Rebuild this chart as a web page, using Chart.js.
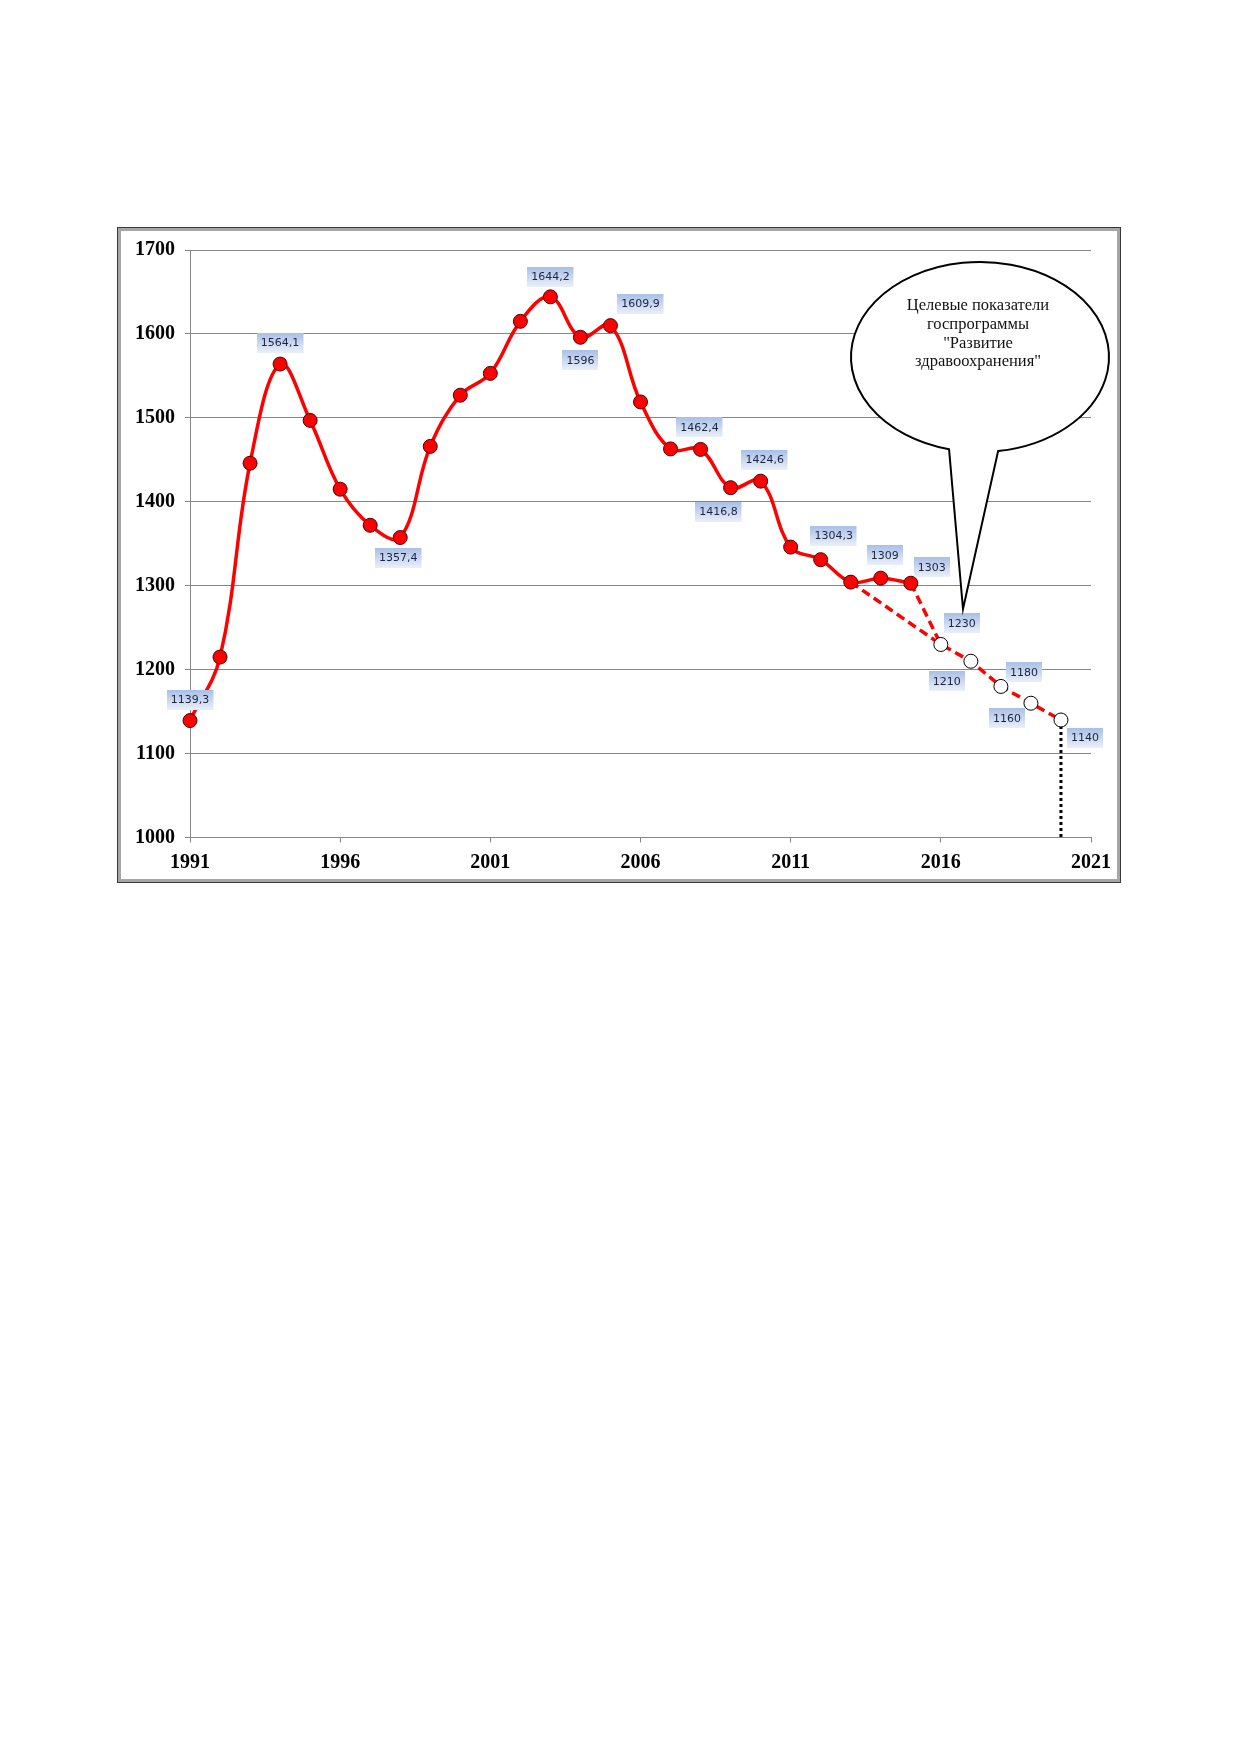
<!DOCTYPE html>
<html>
<head>
<meta charset="utf-8">
<script src="https://cdn.jsdelivr.net/npm/chart.js@4.4.1/dist/chart.umd.min.js"></script>
<style>
  html, body { margin:0; padding:0; background:#fff; width:1239px; height:1752px; overflow:hidden; }
  #frame { position:absolute; left:118px; top:228px; width:1002px; height:654px; box-sizing:border-box;
           border:3px solid #a6a6a6; outline:1px solid #3a3a3a; }
  #wrap { position:absolute; left:118px; top:228px; width:1002px; height:654px; }
</style>
</head>
<body>
<div id="frame"></div>
<div id="wrap"><canvas id="c" width="1002" height="654"></canvas></div>
<script>
// ---- data ----
const years = [1991,1992,1993,1994,1995,1996,1997,1998,1999,2000,2001,2002,2003,2004,2005,2006,2007,2008,2009,2010,2011,2012,2013,2014,2015];
const actual = [1139.3,1215,1446,1564.1,1497,1415,1372,1357.4,1466,1527,1553,1615,1644.2,1596,1609.9,1519,1463,1462.4,1416.8,1424.6,1346,1331,1304.3,1309,1303];
const forecastYears = [2016,2017,2018,2019,2020];
const forecast = [1230,1210,1180,1160,1140];
const xTicks = [1991,1996,2001,2006,2011,2016,2021];
const yMin = 1000, yMax = 1700, yStep = 100;
const calloutLines = ['Целевые показатели','госпрограммы','"Развитие','здравоохранения"'];

// ---- label placement (pixel offsets, styling only) ----
const mainLabelOffsets = [
  [0,-21],null,null,[0,-21],null,null,null,[-2,20],null,null,null,null,[0,-20],[0,23],[30,-22],
  null,null,[-1,-22],[-12,24],[4,-21],null,null,[-17,-46],[4,-23],[21,-16]
];
const forecastLabelOffsets = [[21,-21],[-24,20],[23,-14],[-24,15],[24,18]];

const fmt = v => String(v).replace('.', ',');

// forecast branch from 2013 and from 2015
const i2013 = years.indexOf(2013), i2015 = years.indexOf(2015);
const forecastA = [{x:years[i2013], y:actual[i2013]}].concat(forecastYears.map((x,i)=>({x, y:forecast[i]})));
const forecastB = [{x:years[i2015], y:actual[i2015]}, {x:forecastYears[0], y:forecast[0]}];
const lastF = forecast.length-1;
const dropLine = [{x:forecastYears[lastF], y:forecast[lastF]}, {x:forecastYears[lastF], y:yMin}];

const labelPlugin = {
  id:'labels',
  afterDatasetsDraw(chart){
    const ctx = chart.ctx;
    ctx.save();
    ctx.font = '11px "DejaVu Sans"';
    ctx.textAlign = 'center';
    ctx.textBaseline = 'middle';
    const drawLabel = (px, py, text) => {
      const w = ctx.measureText(text).width + 8, h = 20;
      const x0 = Math.round(px - w/2), y0 = Math.round(py - h/2);
      const g = ctx.createLinearGradient(0, y0, 0, y0+h);
      g.addColorStop(0, '#a9bfe6');
      g.addColorStop(1, '#eaf0f9');
      ctx.fillStyle = g;
      ctx.fillRect(x0, y0, w, h);
      ctx.fillStyle = '#1c2540';
      ctx.fillText(text, px, py+0.5);
    };
    const m0 = chart.getDatasetMeta(0);
    mainLabelOffsets.forEach((o,i)=>{
      if(!o) return;
      const p = m0.data[i];
      drawLabel(p.x+o[0], p.y+o[1], fmt(actual[i]));
    });
    const m1 = chart.getDatasetMeta(1);
    forecastLabelOffsets.forEach((o,i)=>{
      const p = m1.data[i+1];
      drawLabel(p.x+o[0], p.y+o[1], fmt(forecast[i]));
    });
    // callout
    const cx = 862, cy = 129, rx = 129, ry = 95;
    const tL = 1.813, tR = 1.43;
    ctx.beginPath();
    ctx.ellipse(cx, cy, rx, ry, 0, tL, tR + Math.PI*2, false);
    ctx.lineTo(845, 381);
    ctx.closePath();
    ctx.fillStyle = '#ffffff';
    ctx.fill();
    ctx.lineWidth = 2;
    ctx.strokeStyle = '#000';
    ctx.stroke();
    ctx.fillStyle = '#111';
    ctx.font = '16.5px "Liberation Serif"';
    const ly = [78, 97, 116, 134];
    calloutLines.forEach((t,i)=> ctx.fillText(t, 860, ly[i]));
    ctx.restore();
  }
};

new Chart(document.getElementById('c'), {
  type:'line',
  data:{
    datasets:[
      { data: years.map((x,i)=>({x, y:actual[i]})), borderColor:'#ff0000', borderWidth:3.5, tension:0.38, clip:false,
        pointRadius:7, pointBackgroundColor:'#ff0000', pointBorderColor:'#4a0000', pointBorderWidth:1, order:0 },
      { data: forecastA, borderColor:'#ff0000', borderWidth:3.5, borderDash:[9,5], tension:0, clip:false,
        pointRadius: forecastA.map((p,i)=> i===0 ? 0 : 7), pointBackgroundColor:'#ffffff',
        pointBorderColor:'#000000', pointBorderWidth:1, order:1 },
      { data: forecastB, borderColor:'#ff0000', borderWidth:3.5, borderDash:[9,5], tension:0, pointRadius:0, clip:false, order:2 },
      { data: dropLine, borderColor:'#000000', borderWidth:3, borderDash:[3,3], pointRadius:0, clip:false, order:3 }
    ]
  },
  options:{
    responsive:false, animation:false, devicePixelRatio:1,
    layout:{ padding:{ left:0, top:19, right:29, bottom:0 } },
    plugins:{ legend:{display:false}, tooltip:{enabled:false} },
    scales:{
      x:{ type:'linear', min:xTicks[0], max:xTicks[xTicks.length-1],
          afterBuildTicks: s => { s.ticks = xTicks.map(v=>({value:v})); },
          afterFit: s => { s.height = 44.5; },
          grid:{ drawOnChartArea:false, drawTicks:true, tickLength:5, color:'#868686' },
          border:{ color:'#868686' },
          ticks:{ autoSkip:false, maxRotation:0, padding:8, color:'#000',
                  font:{ family:'"Liberation Serif"', size:20, weight:'bold' }, callback: v => String(v) } },
      y:{ min:yMin, max:yMax,
          afterFit: s => { s.width = 72; },
          grid:{ color:'#868686', tickLength:5, drawTicks:true },
          border:{ color:'#868686' },
          ticks:{ stepSize:yStep, padding:10, color:'#000',
                  font:{ family:'"Liberation Serif"', size:20, weight:'bold' }, callback: v => String(v) } }
    }
  },
  plugins:[labelPlugin]
});
</script>
</body>
</html>
